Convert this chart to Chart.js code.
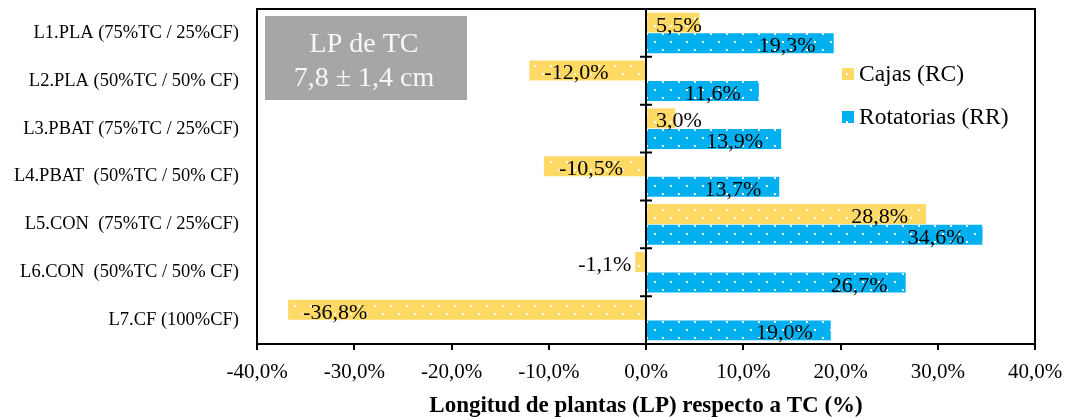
<!DOCTYPE html>
<html>
<head>
<meta charset="utf-8">
<script src="https://cdn.jsdelivr.net/npm/chart.js@4.4.0/dist/chart.umd.min.js"></script>
<style>
  html, body { margin: 0; padding: 0; background: #fff; }
  #wrap { width: 1068px; height: 417px; }
</style>
</head>
<body>
<div id="wrap"><canvas id="lpChart" width="1068" height="417"></canvas></div>
<script>
const categories = [
  "L1.PLA (75%TC / 25%CF)",
  "L2.PLA (50%TC / 50% CF)",
  "L3.PBAT (75%TC / 25%CF)",
  "L4.PBAT  (50%TC / 50% CF)",
  "L5.CON  (75%TC / 25%CF)",
  "L6.CON  (50%TC / 50% CF)",
  "L7.CF (100%CF)"
];
const cajasValues = [5.5, -12.0, 3.0, -10.5, 28.8, -1.1, -36.8];
const rotatoriasValues = [19.3, 11.6, 13.9, 13.7, 34.6, 26.7, 19.0];
const seriesNames = ["Cajas (RC)", "Rotatorias (RR)"];
const boxLines = ["LP de TC", "7,8 ± 1,4 cm"];
const xTitle = "Longitud de plantas (LP) respecto a TC (%)";

const SERIF = "'Liberation Serif', 'Times New Roman', serif";

function fmtPct(v) {
  return v.toFixed(1).replace('.', ',') + '%';
}

// small white dot pattern like the excel fill
function dotPattern(color) {
  const c = document.createElement('canvas');
  c.width = 16; c.height = 16;
  const g = c.getContext('2d');
  g.fillStyle = color;
  g.fillRect(0, 0, 16, 16);
  g.fillStyle = '#ffffff';
  g.fillRect(6, 1, 2, 2);
  g.fillRect(14, 9, 2, 2);
  return g.createPattern(c, 'repeat');
}

const yellowFill = dotPattern('#FFD966');
const blueFill = dotPattern('#00B0F0');

const framePlugin = {
  id: 'frame',
  afterDatasetsDraw(chart) {
    const ctx = chart.ctx;
    const a = chart.chartArea;
    const xs = chart.scales.x;
    const ys = chart.scales.y;
    const x0 = xs.getPixelForValue(0);
    ctx.save();
    ctx.strokeStyle = '#000';
    ctx.lineWidth = 2;
    ctx.strokeRect(a.left, a.top, a.right - a.left, a.bottom - a.top);
    ctx.beginPath();
    ctx.moveTo(x0, a.top);
    ctx.lineTo(x0, a.bottom);
    // ticks at category boundaries
    for (let i = 0; i < categories.length - 1; i++) {
      const yb = (ys.getPixelForValue(i) + ys.getPixelForValue(i + 1)) / 2;
      ctx.moveTo(x0 - 6, yb);
      ctx.lineTo(x0 + 6, yb);
    }
    ctx.moveTo(x0 - 6, a.top);
    ctx.lineTo(x0 + 6, a.top);
    ctx.stroke();
    ctx.restore();
  }
};

const labelPlugin = {
  id: 'barLabels',
  afterDatasetsDraw(chart) {
    const ctx = chart.ctx;
    const x0 = chart.scales.x.getPixelForValue(0);
    ctx.save();
    ctx.font = '22px ' + SERIF;
    ctx.fillStyle = '#000';
    ctx.textBaseline = 'alphabetic';
    chart.data.datasets.forEach((ds, di) => {
      chart.getDatasetMeta(di).data.forEach((bar, i) => {
        const v = ds.data[i];
        const txt = fmtPct(v);
        const w = ctx.measureText(txt).width;
        const y = bar.y + 9;
        let x;
        if (v >= 0) {
          x = bar.x - 18 - w;
          if (x < x0 + 10) x = x0 + 10;
        } else {
          x = bar.x + 15;
          if (x + w > x0) x = bar.x - 4 - w;
        }
        ctx.fillText(txt, x, y);
      });
    });
    ctx.restore();
  }
};

const boxPlugin = {
  id: 'infoBox',
  afterDraw(chart) {
    const ctx = chart.ctx;
    ctx.save();
    ctx.fillStyle = '#A6A6A6';
    ctx.fillRect(265, 16, 202, 84);
    ctx.fillStyle = '#F8F8F8';
    ctx.font = '28px ' + SERIF;
    ctx.textAlign = 'center';
    ctx.textBaseline = 'alphabetic';
    ctx.fillText(boxLines[0], 364, 52);
    ctx.fillText(boxLines[1], 364, 86);

    // legend
    const items = [[yellowFill, 74], [blueFill, 117]];
    ctx.textAlign = 'left';
    ctx.textBaseline = 'middle';
    ctx.font = '23.5px ' + SERIF;
    items.forEach((it, k) => {
      ctx.fillStyle = it[0];
      ctx.fillRect(842, it[1] - 6, 12, 12);
      ctx.fillStyle = '#000';
      ctx.fillText(seriesNames[k], 859, it[1] + 1);
    });
    ctx.restore();
  }
};

new Chart(document.getElementById('lpChart'), {
  type: 'bar',
  data: {
    labels: categories,
    datasets: [
      { label: seriesNames[0], data: cajasValues, backgroundColor: yellowFill, borderWidth: 0 },
      { label: seriesNames[1], data: rotatoriasValues, backgroundColor: blueFill, borderWidth: 0 }
    ]
  },
  options: {
    indexAxis: 'y',
    responsive: false,
    animation: false,
    devicePixelRatio: 1,
    layout: { padding: { left: 0, right: 33, top: 9, bottom: 0 } },
    datasets: { bar: { categoryPercentage: 0.86, barPercentage: 0.97 } },
    plugins: {
      legend: { display: false },
      tooltip: { enabled: false }
    },
    scales: {
      x: {
        min: -40,
        max: 40,
        ticks: {
          stepSize: 10,
          color: '#000',
          padding: 10,
          font: { family: SERIF, size: 21 },
          callback: v => fmtPct(v)
        },
        grid: { drawOnChartArea: false, drawTicks: true, tickLength: 6, color: '#000', lineWidth: 2 },
        border: { display: false },
        title: {
          display: true,
          text: xTitle,
          color: '#000',
          font: { family: SERIF, size: 23, weight: 'bold' },
          padding: { top: 0, bottom: -3 }
        },
        afterFit(s) {
          s.height = 73;
          s.paddingLeft = 0;
          s.paddingRight = 0;
        }
      },
      y: {
        ticks: {
          color: '#000',
          padding: 10,
          font: { family: SERIF, size: 18.5 }
        },
        grid: { display: false },
        border: { display: false },
        afterFit(s) {
          s.width = 257;
          s.paddingTop = 0;
          s.paddingBottom = 0;
        }
      }
    }
  },
  plugins: [framePlugin, labelPlugin, boxPlugin]
});
</script>
</body>
</html>
